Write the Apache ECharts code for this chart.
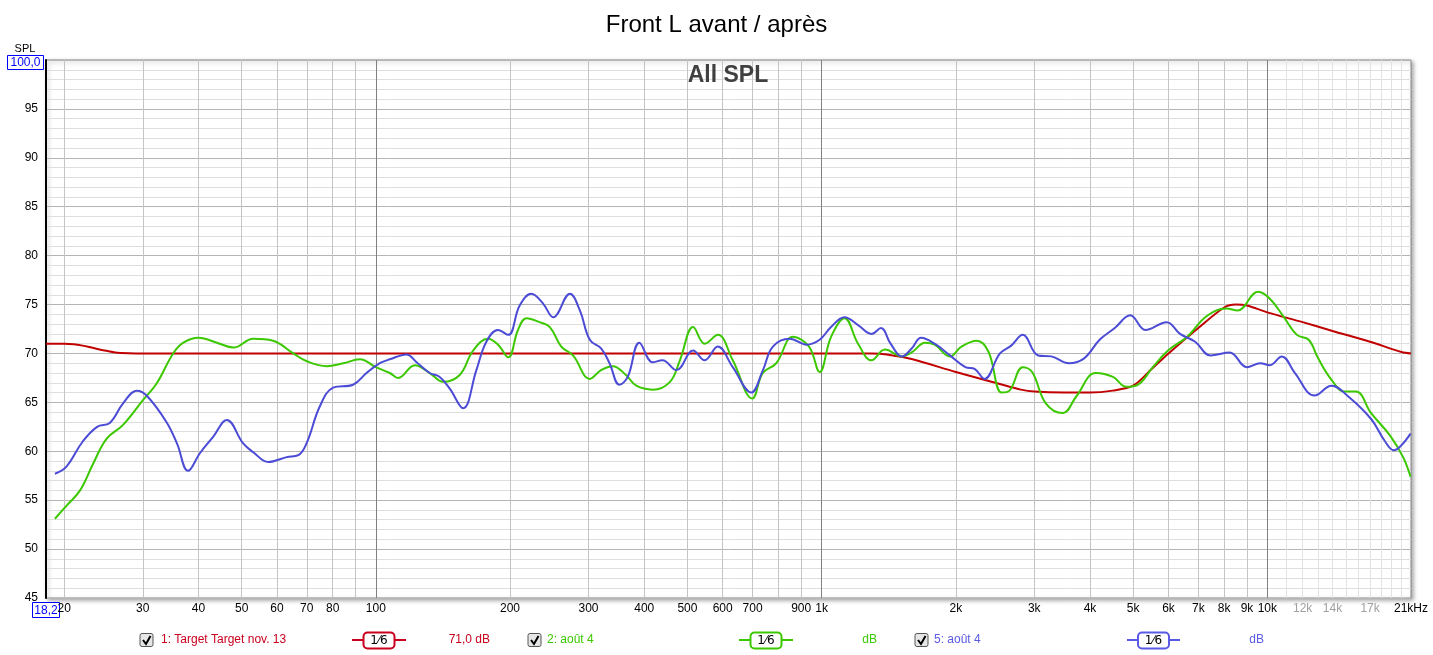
<!DOCTYPE html>
<html>
<head>
<meta charset="utf-8">
<script src="https://cdn.jsdelivr.net/npm/echarts@6/dist/echarts.min.js"></script>
<style>html,body{margin:0;padding:0;background:#fff;}#c{width:1433px;height:655px;}</style>
</head>
<body>
<div id="c"></div>
<script>
// ---- data ----
const targetFreq = [18.2, 20, 21, 22, 23, 24, 25, 26, 28, 30, 100, 1000, 1300, 1400, 1600, 2000, 2500, 2800, 3000, 3500, 4000, 4500, 5000, 5500, 6000, 7000, 8000, 8500, 9000, 10000, 12000, 14000, 17000, 20000, 21000];
const targetDb   = [71.0, 71.0, 70.95, 70.8, 70.6, 70.4, 70.25, 70.1, 70.02, 70, 70, 70, 70, 69.9, 69.4, 68.1, 66.9, 66.3, 66.1, 66.0, 66.0, 66.2, 66.7, 68.4, 70.0, 72.6, 74.7, 75.0, 74.9, 74.2, 73.2, 72.3, 71.2, 70.15, 70.0];

const greenFreq = [19.06, 20.2, 21.7, 23.2, 24.9, 27.1, 30, 32.2, 35.1, 37.0, 40, 44, 47.9, 53.1, 58.8, 65.3, 70, 77.5, 84.5, 92.1, 100, 107.5, 112.2, 122.3, 132.1, 141.5, 154.2, 165.3, 178.5, 188, 198.2, 208.4, 217.8, 233, 245.7, 260.6, 276.9, 302, 320, 340, 364, 384, 418, 457, 481, 515, 547, 585, 632, 699, 738, 791, 863, 937, 990, 1050, 1126, 1207, 1294, 1387, 1515, 1592, 1707, 1793, 1941, 2059, 2230, 2367, 2535, 2639, 2826, 2967, 3184, 3477, 3726, 4121, 4504, 4826, 5119, 5534, 5985, 6610, 7302, 8081, 8571, 9532, 10130, 10860, 11650, 12380, 13000, 13930, 14890, 15800, 17090, 18850, 20160, 20950];
const greenDb   = [53.1, 54.4, 56.0, 58.7, 61.3, 62.7, 65.2, 66.9, 70.0, 71.1, 71.6, 71.1, 70.6, 71.5, 71.3, 70.0, 69.2, 68.7, 69.0, 69.4, 68.6, 68.0, 67.5, 68.8, 68.0, 67.1, 67.8, 70.3, 71.5, 70.9, 69.6, 72.4, 73.6, 73.2, 72.7, 70.7, 69.8, 67.4, 68.3, 68.7, 67.8, 66.7, 66.3, 67.1, 69.3, 72.7, 71.0, 71.9, 69.3, 65.4, 68.0, 69.0, 71.7, 70.7, 68.1, 71.7, 73.6, 71.0, 69.3, 70.4, 69.7, 70.1, 71.1, 70.9, 69.7, 70.7, 71.3, 70.2, 66.0, 66.2, 68.6, 68.1, 64.9, 63.9, 65.6, 68.0, 67.6, 66.6, 66.8, 68.6, 70.3, 71.7, 73.8, 74.6, 74.4, 76.3, 75.6, 73.8, 71.9, 71.4, 69.5, 67.3, 66.1, 66.1, 63.9, 61.6, 59.4, 57.4];

const blueFreq = [19.06, 20.2, 22.0, 23.7, 25.3, 27.1, 29.1, 30.6, 33.9, 35.8, 37.9, 40.3, 43.2, 46.3, 50.4, 53.1, 57.4, 63.1, 67, 69.9, 74.9, 80.2, 88.9, 95.3, 102.1, 107.5, 117.2, 123.4, 132.1, 139.1, 146.5, 157, 168.1, 177, 188, 198.2, 210.2, 223.2, 237.2, 249.9, 272.5, 286.9, 302, 320.4, 334.4, 351.9, 367.4, 390.1, 417.7, 439.5, 472.6, 514.9, 546.6, 584.7, 632, 695.3, 738.5, 777.5, 848.2, 925.5, 990, 1050, 1126, 1207, 1294, 1359, 1428, 1515, 1592, 1672, 1793, 1941, 2101, 2208, 2320, 2512, 2663, 2826, 3060, 3277, 3587, 3881, 4205, 4547, 4926, 5327, 5945, 6369, 6885, 7456, 8230, 8992, 9641, 10130, 10770, 11530, 12760, 13930, 15190, 17090, 18310, 19210, 19970, 20950];
const blueDb   = [57.7, 58.4, 61.0, 62.5, 62.9, 64.9, 66.2, 65.7, 63.0, 60.8, 58.0, 59.8, 61.5, 63.2, 60.8, 59.9, 58.9, 59.4, 59.6, 60.8, 64.6, 66.5, 66.8, 68.0, 69.0, 69.4, 69.9, 69.1, 68.0, 67.6, 66.4, 64.4, 68.3, 71.2, 72.4, 71.9, 74.9, 76.1, 75.1, 73.7, 76.1, 74.4, 71.4, 70.5, 69.0, 66.8, 67.6, 71.1, 69.1, 69.3, 68.3, 70.3, 69.3, 70.7, 68.6, 66.0, 68.3, 70.7, 71.5, 70.9, 71.4, 72.7, 73.7, 72.9, 72.0, 72.6, 71.0, 69.7, 70.5, 71.6, 71.0, 69.8, 68.6, 68.4, 67.4, 70.0, 70.8, 71.9, 69.8, 69.7, 69.0, 69.5, 71.4, 72.6, 73.9, 72.4, 73.2, 72.0, 71.2, 69.8, 70.1, 68.6, 69.0, 68.8, 69.7, 68.0, 65.7, 66.7, 65.6, 63.3, 61.1, 60.1, 60.6, 61.8];

const gridFreqs = [20,30,40,50,60,70,80,90,100,200,300,400,500,600,700,800,900,1000,2000,3000,4000,5000,6000,7000,8000,9000,10000,11000,12000,13000,14000,15000,16000,17000,18000,19000,20000];
const decadeFreqs = [100, 1000, 10000];
const tickFreqs  = [20,30,40,50,60,70,80,100,200,300,400,500,600,700,900,1000,2000,3000,4000,5000,6000,7000,8000,9000,10000,12000,14000,17000,21000];
const tickLabels = ['20','30','40','50','60','70','80','100','200','300','400','500','600','700','900','1k','2k','3k','4k','5k','6k','7k','8k','9k','10k','12k','14k','17k','21kHz'];
const greyTicks  = ['12k','14k','17k'];

const xMin = 18.2, xMax = 21000, yMin = 45, yMax = 100;

const FONT = '"Liberation Sans", Arial, sans-serif';
const RED = '#c00000', GREEN = '#3cc800', BLUE = '#4b4bd6';

function pairs(f, d) { return f.map((v, i) => [v, d[i]]); }

// gridlines + tick labels through markLine on the x axis
const mlData = [];
gridFreqs.forEach(f => {
  let color = '#c4c4c4';
  if (decadeFreqs.includes(f)) color = '#808080';
  else if (f > 10000) color = '#e2e2e2';
  mlData.push({ xAxis: f, lineStyle: { color, width: 1, type: 'solid' }, label: { show: false } });
});
tickFreqs.forEach((f, i) => {
  const txt = tickLabels[i];
  const item = mlData.find(d => d.xAxis === f);
  const label = { show: true, position: 'start', distance: 5, formatter: txt, fontSize: 12, fontFamily: FONT,
                  color: greyTicks.includes(txt) ? '#a0a0a0' : '#000' };
  if (item) item.label = label;
  else mlData.push({ xAxis: Math.min(f, xMax * 0.9999), lineStyle: { color: 'rgba(0,0,0,0)', width: 1 }, label });
});

function legendItem(cb, textX, text, color, lineX0, lineX1, valX, valText) {
  const els = [];
  els.push({ type: 'rect', shape: { x: cb, y: 633.5, width: 13, height: 13, r: 2 },
    style: { fill: '#e6e6e6', stroke: '#555', lineWidth: 1 } });
  els.push({ type: 'polyline', shape: { points: [[cb + 3, 640], [cb + 6, 644], [cb + 10.5, 636]] },
    style: { stroke: '#000', lineWidth: 2, fill: null } });
  els.push({ type: 'text', x: textX, y: 640, style: { text, fill: color, font: '12px ' + FONT, textAlign: 'left', textVerticalAlign: 'middle' } });
  els.push({ type: 'line', shape: { x1: lineX0, y1: 640, x2: lineX1, y2: 640 }, style: { stroke: color, lineWidth: 2 } });
  const bx = (lineX0 + lineX1) / 2 - 15.5;
  els.push({ type: 'rect', shape: { x: bx, y: 632.5, width: 31, height: 16, r: 4 }, style: { fill: '#fff', stroke: color, lineWidth: 2 } });
  els.push({ type: 'text', x: bx + 15.5, y: 640.5, style: { text: '1\u20446', fill: '#000', font: '12px "DejaVu Sans", sans-serif', textAlign: 'center', textVerticalAlign: 'middle' } });
  els.push({ type: 'text', x: valX, y: 640, style: { text: valText, fill: color, font: '12px ' + FONT, textAlign: 'right', textVerticalAlign: 'middle' } });
  return els;
}

const chart = echarts.init(document.getElementById('c'), null, { renderer: 'canvas' });
const option = {
  animation: false,
  backgroundColor: '#fff',
  title: { text: 'Front L avant / après', left: 'center', top: 8,
    textStyle: { fontSize: 24, fontWeight: 'normal', color: '#000', fontFamily: FONT } },
  grid: { left: 46, right: 22, top: 60, bottom: 57, show: true, backgroundColor: '#fff',
    borderColor: '#8a8a8a', borderWidth: 1, shadowColor: 'rgba(0,0,0,0.35)', shadowBlur: 4, shadowOffsetX: 2, shadowOffsetY: 2 },
  xAxis: { type: 'log', logBase: 10, min: xMin, max: xMax,
    axisLine: { show: false }, axisTick: { show: false }, axisLabel: { show: false }, splitLine: { show: false } },
  yAxis: { type: 'value', min: yMin, max: yMax, interval: 5,
    axisLine: { show: true, lineStyle: { color: '#000', width: 2 } }, axisTick: { show: false },
    axisLabel: { formatter: v => (v === yMax ? '' : String(v)), color: '#000', fontSize: 12, fontFamily: FONT, margin: 8 },
    splitLine: { show: true, lineStyle: { color: '#b4b4b4', width: 1 } },
    minorTick: { show: false, splitNumber: 5 },
    minorSplitLine: { show: true, lineStyle: { color: '#dedede', width: 1 } } },
  series: [
    { type: 'line', name: 'grid', data: [], silent: true, z: 1,
      markLine: { silent: true, z: 1, symbol: ['none', 'none'], animation: false, label: { show: false },
        emphasis: { disabled: true }, data: mlData } },
    { type: 'line', name: '1: Target Target nov. 13', data: pairs(targetFreq, targetDb), showSymbol: false, smooth: 0.3,
      lineStyle: { color: RED, width: 2 }, z: 3 },
    { type: 'line', name: '2: août 4', data: pairs(greenFreq, greenDb), showSymbol: false, smooth: 0.4,
      lineStyle: { color: GREEN, width: 2 }, z: 4 },
    { type: 'line', name: '5: août 4', data: pairs(blueFreq, blueDb), showSymbol: false, smooth: 0.4,
      lineStyle: { color: BLUE, width: 2 }, z: 5 }
  ],
  graphic: [
    { type: 'text', x: 728, y: 76, z: 10, style: { text: 'All SPL', fill: '#404040', font: 'bold 23px ' + FONT, textAlign: 'center', textVerticalAlign: 'middle' } },
    { type: 'text', x: 25, y: 49, style: { text: 'SPL', fill: '#000', font: '11px ' + FONT, textAlign: 'center', textVerticalAlign: 'middle' } },
    { type: 'rect', shape: { x: 7.5, y: 55.5, width: 36, height: 14 }, style: { fill: '#fff', stroke: '#0000ff', lineWidth: 1 } },
    { type: 'text', x: 25.5, y: 63, style: { text: '100,0', fill: '#0000ff', font: '12px ' + FONT, textAlign: 'center', textVerticalAlign: 'middle' } },
    { type: 'rect', shape: { x: 32.5, y: 602.5, width: 27, height: 15 }, style: { fill: '#fff', stroke: '#0000ff', lineWidth: 1 } },
    { type: 'text', x: 46, y: 610.5, style: { text: '18,2', fill: '#0000ff', font: '12px ' + FONT, textAlign: 'center', textVerticalAlign: 'middle' } },
    ...legendItem(140, 161, '1: Target Target nov. 13', '#c8001e', 352, 406, 490, '71,0 dB'),
    ...legendItem(528, 547, '2: août 4', GREEN, 739, 793, 877, 'dB'),
    ...legendItem(915, 934, '5: août 4', '#5a5ae6', 1127, 1180, 1264, 'dB')
  ]
};
chart.setOption(option);
</script>
</body>
</html>
